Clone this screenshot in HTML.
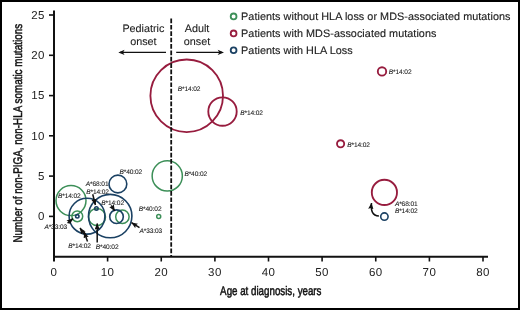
<!DOCTYPE html>
<html><head><meta charset="utf-8">
<style>
html,body{margin:0;padding:0;background:#fff;}
body{width:520px;height:310px;overflow:hidden;}
svg{display:block;will-change:transform;text-rendering:geometricPrecision;font-family:"Liberation Sans",sans-serif;}
</style></head><body>
<svg width="520" height="310" viewBox="0 0 520 310">
<defs>
<marker id="ah" viewBox="0 0 12 10" refX="11.5" refY="5" markerWidth="6.4" markerHeight="5.4" orient="auto" markerUnits="userSpaceOnUse">
<path d="M0,0 L12,5 L0,10 L2,5 Z" fill="#111"/>
</marker>
</defs>
<rect x="1" y="1" width="518" height="308" fill="#fff" stroke="#000" stroke-width="2"/>

<!-- axes -->
<g stroke="#111" stroke-width="2" fill="none">
<line x1="54" y1="10.5" x2="54" y2="261.5"/>
<line x1="53" y1="256.8" x2="488" y2="256.8"/>
</g><g stroke="#111" stroke-width="1.6" fill="none">
<!-- y ticks -->
<line x1="49" y1="15" x2="54" y2="15"/>
<line x1="49" y1="55.3" x2="54" y2="55.3"/>
<line x1="49" y1="95.6" x2="54" y2="95.6"/>
<line x1="49" y1="135.8" x2="54" y2="135.8"/>
<line x1="49" y1="176.1" x2="54" y2="176.1"/>
<line x1="49" y1="216.4" x2="54" y2="216.4"/>
<!-- x ticks -->
<line x1="107.6" y1="256.8" x2="107.6" y2="261.5"/>
<line x1="161.25" y1="256.8" x2="161.25" y2="261.5"/>
<line x1="214.9" y1="256.8" x2="214.9" y2="261.5"/>
<line x1="268.5" y1="256.8" x2="268.5" y2="261.5"/>
<line x1="322.1" y1="256.8" x2="322.1" y2="261.5"/>
<line x1="375.75" y1="256.8" x2="375.75" y2="261.5"/>
<line x1="429.4" y1="256.8" x2="429.4" y2="261.5"/>
<line x1="483" y1="256.8" x2="483" y2="261.5"/>
</g>
<g font-size="11.5" fill="#222" text-anchor="end" letter-spacing="0.3">
<text x="44.7" y="18.7">25</text>
<text x="44.7" y="59.0">20</text>
<text x="44.7" y="99.3">15</text>
<text x="44.7" y="139.5">10</text>
<text x="44.7" y="179.8">5</text>
<text x="44.7" y="220.1">0</text>
</g>
<g font-size="11.5" fill="#222" text-anchor="middle" letter-spacing="0.4">
<text x="54" y="276.2">0</text>
<text x="107.6" y="276.2">10</text>
<text x="161.25" y="276.2">20</text>
<text x="214.9" y="276.2">30</text>
<text x="268.5" y="276.2">40</text>
<text x="322.1" y="276.2">50</text>
<text x="375.75" y="276.2">60</text>
<text x="429.4" y="276.2">70</text>
<text x="483" y="276.2">80</text>
</g>
<!-- axis titles -->
<text transform="translate(270.8,295.3) scale(0.78,1)" font-size="12.5" text-anchor="middle" fill="#111" stroke="#111" stroke-width="0.5">Age at diagnosis, years</text>
<text transform="translate(21.9,133.2) rotate(-90) scale(0.791,1)" font-size="12.5" text-anchor="middle" fill="#111" stroke="#111" stroke-width="0.5">Number of non-PIGA, non-HLA somatic mutations</text>

<!-- onset labels -->
<g font-size="10.8" fill="#222" stroke="#222" stroke-width="0.1" text-anchor="middle">
<text x="143.4" y="31.7">Pediatric</text>
<text x="143.4" y="45.1">onset</text>
<text x="197" y="31.8">Adult</text>
<text x="197" y="45.1">onset</text>
</g>
<g stroke="#111" stroke-width="1.4">
<line x1="166" y1="52.4" x2="120" y2="52.4"/>
<line x1="176.2" y1="52.4" x2="222" y2="52.4"/>
</g>
<path d="M118.3,52.4 L124.6,49.8 L123,52.4 L124.6,55 Z" fill="#111"/>
<path d="M224,52.4 L217.7,49.8 L219.3,52.4 L217.7,55 Z" fill="#111"/>

<!-- legend -->
<g fill="none" stroke-width="1.8">
<circle cx="233.6" cy="16.4" r="2.9" stroke="#3c8f58"/>
<circle cx="233.6" cy="33.4" r="2.9" stroke="#971c3e"/>
<circle cx="233.6" cy="50.2" r="2.9" stroke="#1b4163"/>
</g>
<g font-size="10.8" fill="#222" stroke="#222" stroke-width="0.15" letter-spacing="0.055">
<text x="241.1" y="20.2">Patients without HLA loss or MDS-associated mutations</text>
<text x="241.1" y="37.2">Patients with MDS-associated mutations</text>
<text x="241.1" y="54">Patients with HLA Loss</text>
</g>

<!-- green bubbles -->
<g fill="none" stroke="#3c8f58" stroke-width="1.5">
<circle cx="71" cy="200.6" r="15"/>
<circle cx="77.3" cy="216.3" r="5.4"/>
<circle cx="97" cy="216.9" r="8.5"/>
<circle cx="122.4" cy="216.8" r="6.7"/>
<circle cx="167.25" cy="175.95" r="15.1"/>
<circle cx="158.7" cy="216.5" r="2"/>
</g>
<!-- red bubbles -->
<g fill="none" stroke="#971c3e" stroke-width="1.85">
<circle cx="186.7" cy="95.8" r="36.3"/>
<circle cx="222.5" cy="111.5" r="14.2"/>
<circle cx="382" cy="71.4" r="4.2"/>
<circle cx="340.6" cy="143.8" r="3.6"/>
<circle cx="384.4" cy="192.4" r="12.6"/>
</g>
<!-- blue bubbles -->
<g fill="none" stroke="#1b4163" stroke-width="1.6">
<circle cx="117.9" cy="184" r="8.9"/>
<circle cx="87" cy="216.2" r="17.9"/>
<circle cx="110.2" cy="216.1" r="21.7"/>
<circle cx="96.4" cy="208.4" r="1.7"/>
<circle cx="77.3" cy="216.3" r="1.7"/>
<circle cx="116.5" cy="216.7" r="6.8"/>
<circle cx="384.4" cy="216.6" r="3.7"/>
</g>

<!-- dashed divider -->
<line x1="171.2" y1="18.5" x2="171.2" y2="256" stroke="#111" stroke-width="1.8" stroke-dasharray="4.7 1.69"/>
<!-- annotation arrows -->
<g stroke="#111" stroke-width="1.5" fill="none" marker-end="url(#ah)">
<line x1="67.6" y1="223.1" x2="72.9" y2="218.7"/>
<line x1="84" y1="234" x2="80" y2="228"/>
<line x1="87.5" y1="241.5" x2="84.2" y2="232"/>
<line x1="97.2" y1="242.5" x2="97.2" y2="223.6"/>
<line x1="92.7" y1="194.3" x2="95.4" y2="205"/>
<line x1="111.3" y1="205.3" x2="114.7" y2="210.9"/>
<line x1="139.5" y1="227.7" x2="131.5" y2="222.6"/>
<path d="M378.9,216.1 C372.5,215.5 370.6,211 371.5,203"/>
</g>

<!-- small labels -->
<g font-size="6.6" fill="#222" stroke="#222" stroke-width="0.1" letter-spacing="-0.12">
<text x="177.7" y="90.8"><tspan font-style="italic">B</tspan>*14:02</text>
<text x="240.2" y="114.8"><tspan font-style="italic">B</tspan>*14:02</text>
<text x="388.8" y="74.4"><tspan font-style="italic">B</tspan>*14:02</text>
<text x="347.2" y="146.9"><tspan font-style="italic">B</tspan>*14:02</text>
<text x="394.9" y="205.6"><tspan font-style="italic">A</tspan>*68:01</text>
<text x="394.9" y="213.1"><tspan font-style="italic">B</tspan>*14:02</text>
<text x="119.5" y="174.3"><tspan font-style="italic">B</tspan>*40:02</text>
<text x="184.4" y="176.1"><tspan font-style="italic">B</tspan>*40:02</text>
<text x="138.8" y="210.5"><tspan font-style="italic">B</tspan>*40:02</text>
<text x="139.5" y="233.0"><tspan font-style="italic">A</tspan>*33:03</text>
<text x="58" y="197.9"><tspan font-style="italic">B</tspan>*14:02</text>
<text x="85.8" y="186.4"><tspan font-style="italic">A</tspan>*68:01</text>
<text x="86.2" y="193.5"><tspan font-style="italic">B</tspan>*14:02</text>
<text x="101.3" y="204.7"><tspan font-style="italic">B</tspan>*14:02</text>
<text x="44.4" y="229.3"><tspan font-style="italic">A</tspan>*33:03</text>
<text x="68.2" y="248.2"><tspan font-style="italic">B</tspan>*14:02</text>
<text x="95.8" y="249.2"><tspan font-style="italic">B</tspan>*40:02</text>
</g>
</svg>
</body></html>
